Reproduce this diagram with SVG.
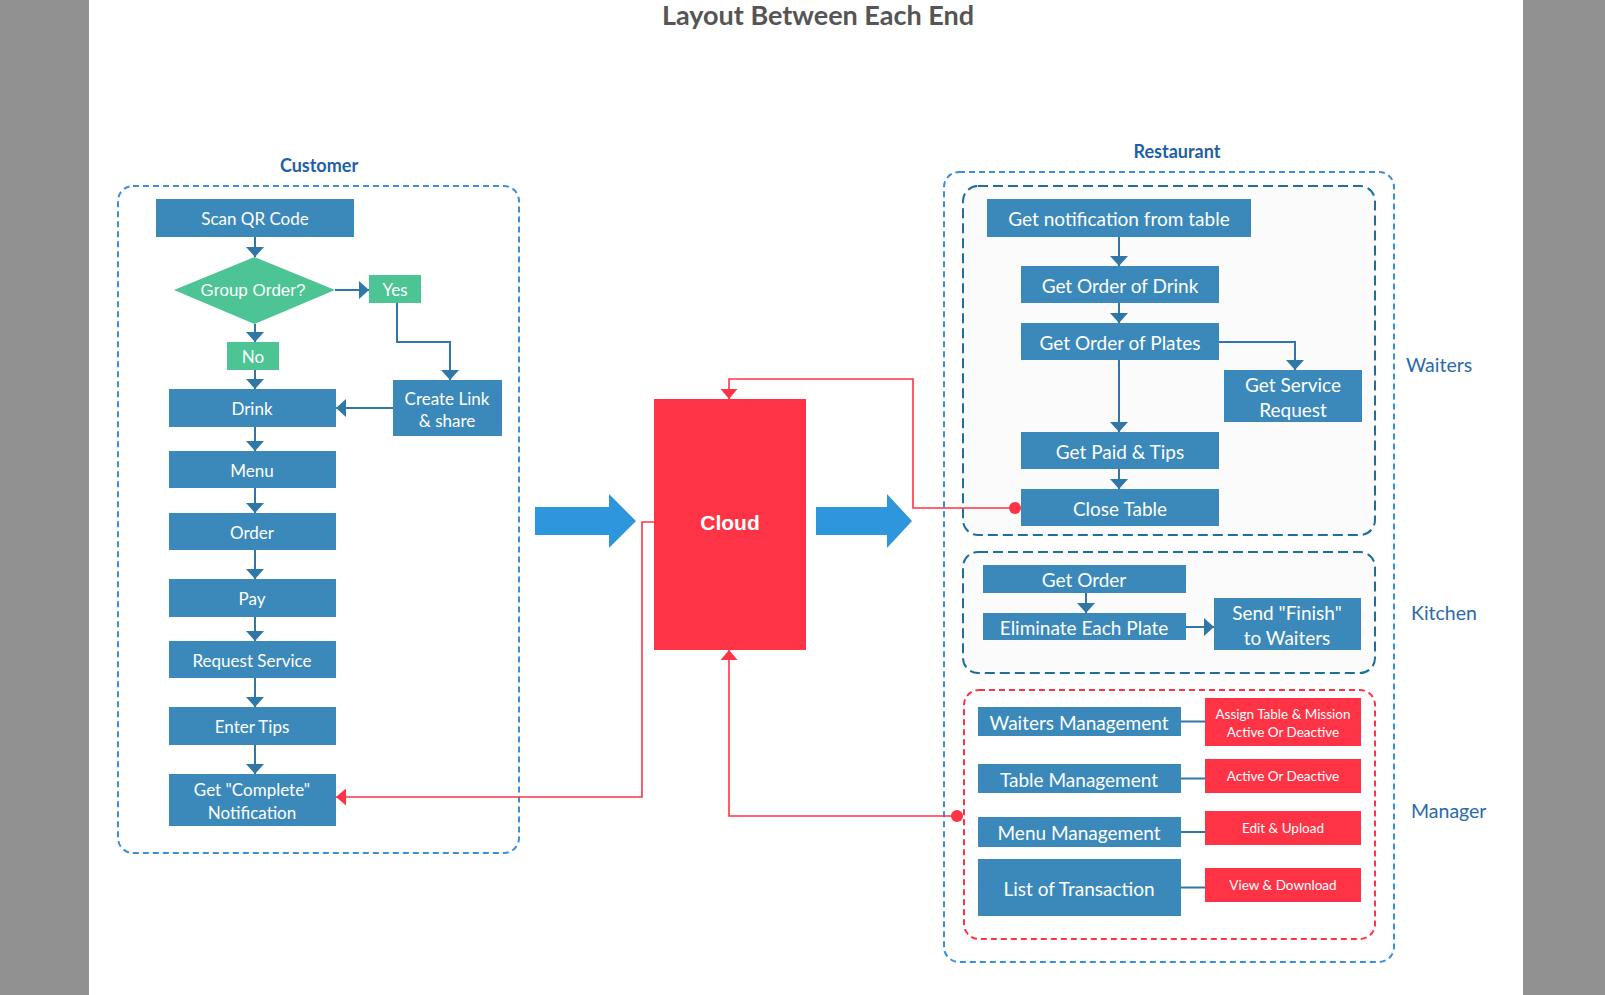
<svg xmlns="http://www.w3.org/2000/svg" width="1605" height="995" viewBox="0 0 1605 995">
<defs>
<style>
.bg{fill:#919191}
.page{fill:#ffffff}
.nb{fill:#3b89bb}
.ng{fill:#4cc494}
.nr{fill:#fe3446}
.t{font-family:Lato,"Open Sans","Liberation Sans",sans-serif;fill:#ffffff;text-anchor:middle;dominant-baseline:central}
.ts{font-size:17px}
.tm{font-size:19px}
.tr{font-size:13.5px}
.ta{font-family:"Liberation Sans",Arial,sans-serif;fill:#ffffff;text-anchor:middle;dominant-baseline:central}
.lab{font-family:Lato,"Open Sans","Liberation Sans",sans-serif;fill:#1f5fa3;font-weight:bold;font-size:18px;text-anchor:middle}
.side{font-family:Lato,"Open Sans","Liberation Sans",sans-serif;fill:#2a6aa8;font-size:19.5px}
.c{fill:none;stroke:#2f77a6;stroke-width:2}
.cr{fill:none;stroke:#fe3446;stroke-width:1.6}
.cont-lb{fill:none;stroke:#3a8fdc;stroke-width:2;stroke-dasharray:6 4}
.cont-db{fill:#fbfbfc;stroke:#1f6e9e;stroke-width:2;stroke-dasharray:10 5}
.cont-r{fill:#ffffff;stroke:#fe3446;stroke-width:2;stroke-dasharray:6 4}
.big{fill:#2e96dc}
</style>
<marker id="ab" markerUnits="userSpaceOnUse" markerWidth="10" markerHeight="18" viewBox="0 0 10 18" refX="10" refY="9" orient="auto">
<path d="M0,0 L10,9 L0,18 z" fill="#2f77a6"/>
</marker>
<marker id="ar" markerUnits="userSpaceOnUse" markerWidth="10" markerHeight="17" viewBox="0 0 10 17" refX="10" refY="8.5" orient="auto">
<path d="M0,0 L10,8.5 L0,17 z" fill="#fe3446"/>
</marker>
<marker id="dr" markerUnits="userSpaceOnUse" markerWidth="12" markerHeight="12" viewBox="0 0 12 12" refX="6" refY="6" orient="auto">
<circle cx="6" cy="6" r="6" fill="#fe3446"/>
</marker>
</defs>

<rect class="bg" x="0" y="0" width="1605" height="995"/>
<rect class="page" x="89" y="0" width="1434" height="995"/>

<text x="818" y="25" font-family="Lato,'Open Sans','Liberation Sans',sans-serif" font-weight="bold" font-size="27" fill="#555555" text-anchor="middle">Layout Between Each End</text>

<g id="containers">
<text class="lab" x="319" y="172">Customer</text>
<rect class="cont-lb" x="118" y="186" width="401" height="667" rx="15"/>
<text class="lab" x="1177" y="158">Restaurant</text>
<rect class="cont-lb" x="944" y="172" width="450" height="790" rx="15"/>
<rect class="cont-db" x="963" y="186" width="412" height="349" rx="15"/>
<rect class="cont-db" x="963" y="552" width="412" height="121" rx="15"/>
<rect class="cont-r" x="964" y="690" width="411" height="249" rx="15"/>
<text class="side" x="1406" y="372">Waiters</text>
<text class="side" x="1411" y="620">Kitchen</text>
<text class="side" x="1411" y="818">Manager</text>
</g>

<g id="connectors">
<path class="c" d="M255,237 V257" marker-end="url(#ab)"/>
<path class="c" d="M335,290 H369" marker-end="url(#ab)"/>
<path class="c" d="M255,324 V342" marker-end="url(#ab)"/>
<path class="c" d="M255,370 V389" marker-end="url(#ab)"/>
<path class="c" d="M397,303 V342 H450 V380" marker-end="url(#ab)"/>
<path class="c" d="M393,408 H336" marker-end="url(#ab)"/>
<path class="c" d="M255,427 V451" marker-end="url(#ab)"/>
<path class="c" d="M255,488 V513" marker-end="url(#ab)"/>
<path class="c" d="M255,550 V579" marker-end="url(#ab)"/>
<path class="c" d="M255,617 V641" marker-end="url(#ab)"/>
<path class="c" d="M255,678 V707" marker-end="url(#ab)"/>
<path class="c" d="M255,745 V774" marker-end="url(#ab)"/>

<path class="c" d="M1119,237 V266" marker-end="url(#ab)"/>
<path class="c" d="M1119,303 V323" marker-end="url(#ab)"/>
<path class="c" d="M1119,360 V432" marker-end="url(#ab)"/>
<path class="c" d="M1119,469 V489" marker-end="url(#ab)"/>
<path class="c" d="M1219,342 H1295 V370" marker-end="url(#ab)"/>

<path class="c" d="M1086,593 V613" marker-end="url(#ab)"/>
<path class="c" d="M1186,627 H1214" marker-end="url(#ab)"/>

<path class="c" d="M1181,721.5 H1205"/>
<path class="c" d="M1181,778.5 H1205"/>
<path class="c" d="M1181,832 H1205"/>
<path class="c" d="M1181,887.5 H1205"/>

<path class="cr" d="M654,522 H642 V797 H336" marker-end="url(#ar)"/>
<path class="cr" d="M1015,508 H913 V379 H729 V399" marker-start="url(#dr)" marker-end="url(#ar)"/>
<path class="cr" d="M957,816 H729 V650" marker-start="url(#dr)" marker-end="url(#ar)"/>

<polygon class="big" points="535,507 609,507 609,494 636,521 609,548 609,535 535,535"/>
<polygon class="big" points="816,507 887,507 887,494 912,521 887,548 887,535 816,535"/>
</g>

<g id="scan"><rect class="nb" x="156" y="199" width="198" height="38"/><text class="t ts" x="255" y="218">Scan QR Code</text></g>
<g id="group"><polygon class="ng" points="174,290 254.5,257 335,290 254.5,324"/><text class="ta" font-size="17" x="253" y="290">Group Order?</text></g>
<g id="yes"><rect class="ng" x="369" y="275" width="52" height="28"/><text class="t ts" x="395" y="289">Yes</text></g>
<g id="no"><rect class="ng" x="227" y="342" width="52" height="28"/><text class="t ts" x="253" y="356">No</text></g>
<g id="createlink"><rect class="nb" x="393" y="380" width="109" height="56"/><text class="t ts" x="447" y="398">Create Link</text><text class="t ts" x="447" y="420">&amp; share</text></g>
<g id="drink"><rect class="nb" x="169" y="389" width="167" height="38"/><text class="t ts" x="252" y="408">Drink</text></g>
<g id="menu"><rect class="nb" x="169" y="451" width="167" height="37"/><text class="t ts" x="252" y="470">Menu</text></g>
<g id="order"><rect class="nb" x="169" y="513" width="167" height="37"/><text class="t ts" x="252" y="532">Order</text></g>
<g id="pay"><rect class="nb" x="169" y="579" width="167" height="38"/><text class="t ts" x="252" y="598">Pay</text></g>
<g id="reqservice"><rect class="nb" x="169" y="641" width="167" height="37"/><text class="t ts" x="252" y="660">Request Service</text></g>
<g id="entertips"><rect class="nb" x="169" y="707" width="167" height="38"/><text class="t ts" x="252" y="726">Enter Tips</text></g>
<g id="getcomplete"><rect class="nb" x="169" y="774" width="167" height="52"/><text class="t ts" x="252" y="789">Get "Complete"</text><text class="t ts" x="252" y="812">Notification</text></g>

<g id="cloud"><rect x="654" y="399" width="152" height="251" fill="#fe3446"/><text class="ta" font-size="21" font-weight="bold" x="730" y="522">Cloud</text></g>

<g id="getnotif"><rect class="nb" x="987" y="199" width="264" height="38"/><text class="t tm" x="1119" y="218">Get notification from table</text></g>
<g id="orderdrink"><rect class="nb" x="1021" y="266" width="198" height="37"/><text class="t tm" x="1120" y="285">Get Order of Drink</text></g>
<g id="orderplates"><rect class="nb" x="1021" y="323" width="198" height="37"/><text class="t tm" x="1120" y="342">Get Order of Plates</text></g>
<g id="servicereq"><rect class="nb" x="1224" y="370" width="138" height="52"/><text class="t tm" x="1293" y="384">Get Service</text><text class="t tm" x="1293" y="409">Request</text></g>
<g id="paidtips"><rect class="nb" x="1021" y="432" width="198" height="37"/><text class="t tm" x="1120" y="451">Get Paid &amp; Tips</text></g>
<g id="closetable"><rect class="nb" x="1021" y="489" width="198" height="37"/><text class="t tm" x="1120" y="508">Close Table</text></g>

<g id="kgetorder"><rect class="nb" x="983" y="565" width="203" height="28"/><text class="t tm" x="1084" y="579">Get Order</text></g>
<g id="eliminate"><rect class="nb" x="983" y="613" width="203" height="27"/><text class="t tm" x="1084" y="627">Eliminate Each Plate</text></g>
<g id="sendfinish"><rect class="nb" x="1214" y="598" width="147" height="52"/><text class="t tm" x="1287" y="612">Send "Finish"</text><text class="t tm" x="1287" y="637">to Waiters</text></g>

<g id="waitersmgmt"><rect class="nb" x="978" y="707" width="203" height="29"/><text class="t tm" x="1079" y="722">Waiters Management</text></g>
<g id="assign"><rect class="nr" x="1205" y="698" width="156" height="48"/><text class="t tr" x="1283" y="714">Assign Table &amp; Mission</text><text class="t tr" x="1283" y="732">Active Or Deactive</text></g>
<g id="tablemgmt"><rect class="nb" x="978" y="764" width="203" height="29"/><text class="t tm" x="1079" y="779">Table Management</text></g>
<g id="activedeactive"><rect class="nr" x="1205" y="759" width="156" height="34"/><text class="t tr" x="1283" y="776">Active Or Deactive</text></g>
<g id="menumgmt"><rect class="nb" x="978" y="817" width="203" height="30"/><text class="t tm" x="1079" y="832">Menu Management</text></g>
<g id="editupload"><rect class="nr" x="1205" y="811" width="156" height="34"/><text class="t tr" x="1283" y="828">Edit &amp; Upload</text></g>
<g id="listtrans"><rect class="nb" x="978" y="859" width="203" height="57"/><text class="t tm" x="1079" y="888">List of Transaction</text></g>
<g id="viewdownload"><rect class="nr" x="1205" y="868" width="156" height="34"/><text class="t tr" x="1283" y="885">View &amp; Download</text></g>
</svg>
